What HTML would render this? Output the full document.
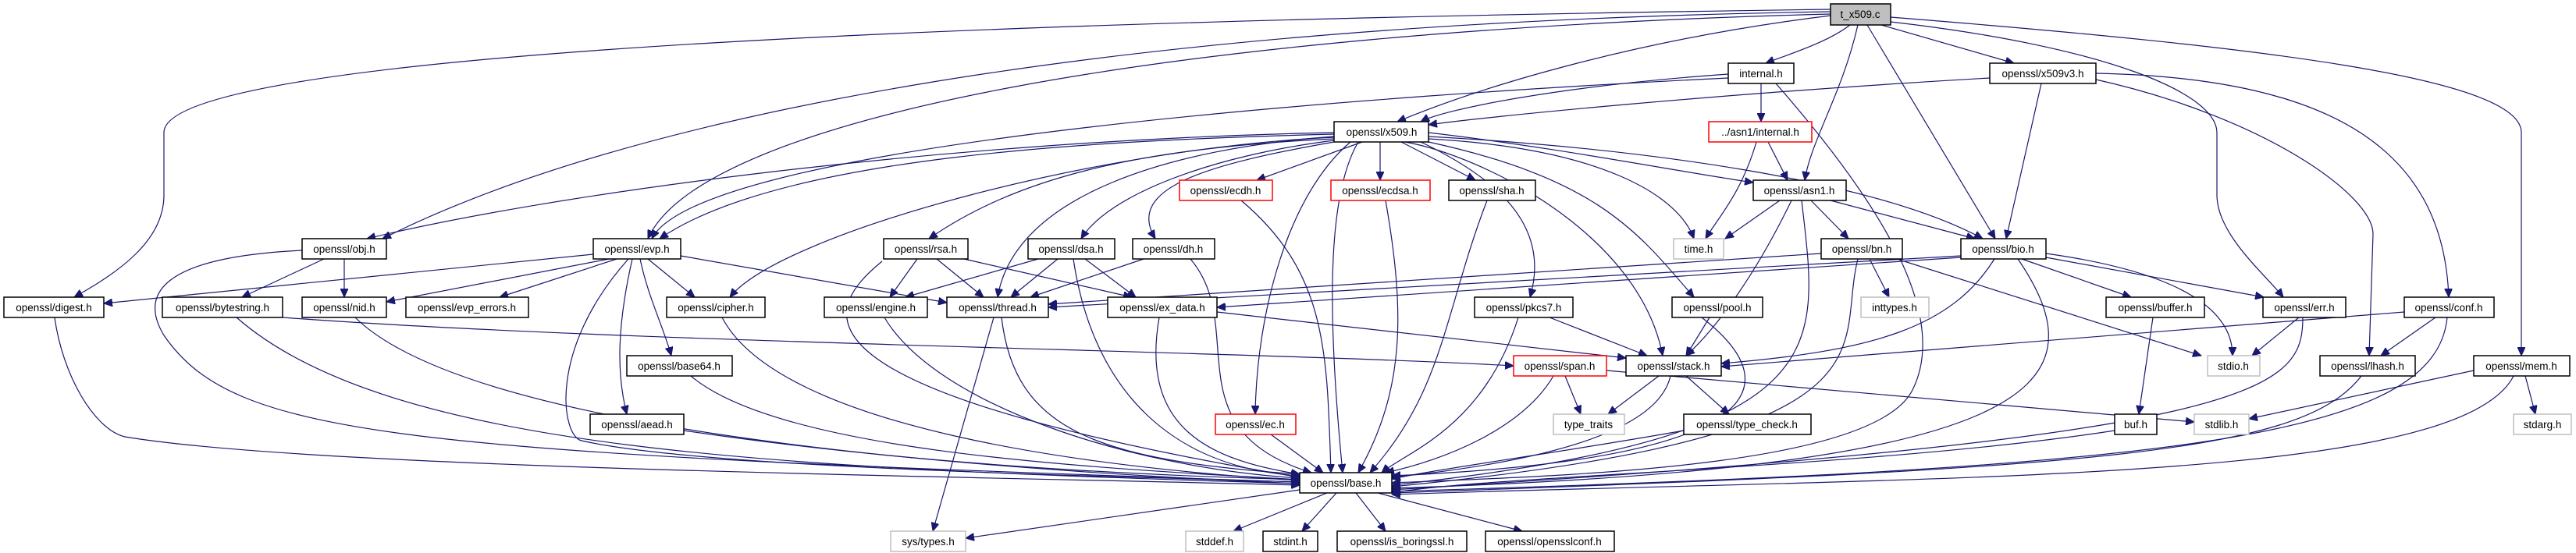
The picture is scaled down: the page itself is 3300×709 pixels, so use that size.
<!DOCTYPE html>
<html><head><meta charset="utf-8"><style>
html,body{margin:0;padding:0;background:#fff}
svg{display:block}
.e{fill:none;stroke:#191970;stroke-width:1.2;marker-end:url(#a)}
.n rect{fill:#fff;stroke:#000;stroke-width:1.5}
.g rect{fill:#fff;stroke:#bfbfbf;stroke-width:1.5}
.r rect{fill:#fff;stroke:#f00;stroke-width:1.5}
text{font-family:"Liberation Sans",sans-serif;font-size:13.5px;text-anchor:middle;fill:#000}
</style></head><body>
<svg width="3300" height="709" viewBox="0 0 3300 709" xmlns="http://www.w3.org/2000/svg">
<defs><marker id="a" markerUnits="userSpaceOnUse" markerWidth="12" markerHeight="10" refX="11" refY="5" orient="auto"><path d="M0 0 L11 5 L0 10 Z" fill="#191970" stroke="#191970"/></marker></defs>
<g>
<path class="e" d="M2370 32 C2340 55,2290 70,2262 81"/>
<path class="e" d="M2410 32 L2580 81"/>
<path class="e" d="M2345 20 C2100 50,1900 110,1790 156"/>
<path class="e" d="M2380 32 C2360 120,2320 180,2312 231"/>
<path class="e" d="M2392 32 L2556 306"/>
<path class="e" d="M2422 28 C2700 60,2840 120,2840 170 L2840 250 C2840 300,2900 350,2925 381"/>
<path class="e" d="M2422 22 C2900 60,3230 100,3230 170 L3230 456"/>
<path class="e" d="M2345 18 C1500 40,900 150,830 306"/>
<path class="e" d="M2345 15 C1400 30,800 150,490 306"/>
<path class="e" d="M2345 12 C1000 30,210 80,210 170 L210 250 C210 310,150 350,95 381"/>
<path class="e" d="M2214 95 C2000 110,1850 140,1820 156"/>
<path class="e" d="M2256 107 L2256 156"/>
<path class="e" d="M2214 100 C1800 120,900 180,835 306"/>
<path class="e" d="M2275 107 C2400 250,2500 400,2450 500 C2400 600,2000 610,1783 619"/>
<path class="e" d="M2549 100 C2200 120,1900 150,1830 160"/>
<path class="e" d="M2615 107 L2570 306"/>
<path class="e" d="M2685 102 C2900 150,3040 250,3040 300 L3035 456"/>
<path class="e" d="M2685 94 C3000 100,3130 200,3137 381"/>
<path class="e" d="M2265 182 L2290 231"/>
<path class="e" d="M2250 182 C2230 250,2200 280,2185 306"/>
<path class="e" d="M1830 170 C2000 190,2150 220,2246 234"/>
<path class="e" d="M1830 175 C2100 190,2400 230,2540 306"/>
<path class="e" d="M1830 178 C2050 190,2150 250,2170 306"/>
<path class="e" d="M1745 182 L1610 231"/>
<path class="e" d="M1768 182 L1768 231"/>
<path class="e" d="M1795 182 L1890 231"/>
<path class="e" d="M1709 178 C1450 190,1300 230,1190 306"/>
<path class="e" d="M1709 180 C1550 200,1420 250,1385 306"/>
<path class="e" d="M1709 182 C1550 210,1440 240,1480 306"/>
<path class="e" d="M1709 175 C1500 190,1300 250,1278 381"/>
<path class="e" d="M1820 182 C1900 220,1990 280,1960 381"/>
<path class="e" d="M1830 182 C2050 230,2100 300,2170 381"/>
<path class="e" d="M1800 182 C1900 200,2100 300,2130 456"/>
<path class="e" d="M1730 182 C1650 250,1610 400,1608 531"/>
<path class="e" d="M1740 182 C1700 250,1700 400,1720 606"/>
<path class="e" d="M1709 172 C1400 180,1000 200,845 306"/>
<path class="e" d="M1709 170 C1200 180,700 250,470 306"/>
<path class="e" d="M1709 176 C1400 190,1000 300,935 381"/>
<path class="e" d="M2280 257 L2210 306"/>
<path class="e" d="M2320 257 L2368 306"/>
<path class="e" d="M2345 257 L2530 306"/>
<path class="e" d="M2295 257 C2250 350,2200 420,2160 456"/>
<path class="e" d="M2308 257 C2330 450,2360 560,1783 622"/>
<path class="e" d="M2395 332 L2420 381"/>
<path class="e" d="M2430 332 L2820 456"/>
<path class="e" d="M2380 332 C2350 450,2450 560,1783 624"/>
<path class="e" d="M2333 325 L1343 390"/>
<path class="e" d="M2590 332 L2730 381"/>
<path class="e" d="M2621 330 L2900 381"/>
<path class="e" d="M2621 325 C2800 350,2860 400,2860 456"/>
<path class="e" d="M2555 332 C2500 420,2400 450,2205 466"/>
<path class="e" d="M2585 332 C2700 500,2600 600,1783 626"/>
<path class="e" d="M2512 328 L1343 394"/>
<path class="e" d="M2512 330 L1559 394"/>
<path class="e" d="M2945 407 L2885 456"/>
<path class="e" d="M2950 407 C2950 500,2900 560,1783 628"/>
<path class="e" d="M3120 407 L3050 456"/>
<path class="e" d="M3080 400 L2205 470"/>
<path class="e" d="M3135 407 C3120 560,2800 600,1783 630"/>
<path class="e" d="M3025 482 C2950 580,2700 600,1783 632"/>
<path class="e" d="M3169 475 L2881 537"/>
<path class="e" d="M3235 482 L3248 531"/>
<path class="e" d="M3220 482 C3150 620,2500 610,1783 634"/>
<path class="e" d="M2758 407 L2740 531"/>
<path class="e" d="M2709 552 C2400 600,1900 610,1783 632"/>
<path class="e" d="M415 332 L310 381"/>
<path class="e" d="M441 332 L441 381"/>
<path class="e" d="M387 321 C200 330,180 380,210 430 C300 560,500 580,1665 618"/>
<path class="e" d="M760 326 L133 389"/>
<path class="e" d="M780 332 L495 387"/>
<path class="e" d="M790 332 L640 381"/>
<path class="e" d="M830 332 L890 381"/>
<path class="e" d="M820 332 C830 380,850 420,860 456"/>
<path class="e" d="M810 332 C790 420,790 480,803 531"/>
<path class="e" d="M872 328 L1213 388"/>
<path class="e" d="M805 332 C700 450,720 560,745 565 C900 600,1400 610,1665 618"/>
<path class="e" d="M70 407 C80 480,120 550,160 560 C400 600,1200 610,1665 622"/>
<path class="e" d="M362 407 C800 440,1600 450,1939 469"/>
<path class="e" d="M303 407 C500 580,1000 600,1665 620"/>
<path class="e" d="M455 407 C600 550,1200 600,1665 620"/>
<path class="e" d="M925 407 C1000 550,1400 600,1665 616"/>
<path class="e" d="M885 482 C1000 580,1400 600,1665 615"/>
<path class="e" d="M876 552 C1200 600,1500 610,1665 615"/>
<path class="e" d="M1133 407 C1200 520,1450 600,1665 613"/>
<path class="e" d="M1175 332 L1140 381"/>
<path class="e" d="M1200 332 L1260 381"/>
<path class="e" d="M1235 332 L1450 381"/>
<path class="e" d="M1130 335 C1050 400,1000 500,1665 612"/>
<path class="e" d="M1330 332 L1160 381"/>
<path class="e" d="M1355 332 L1295 381"/>
<path class="e" d="M1390 332 L1455 381"/>
<path class="e" d="M1375 332 C1400 500,1500 600,1665 610"/>
<path class="e" d="M1465 332 L1320 381"/>
<path class="e" d="M1525 332 C1600 420,1500 550,1680 606"/>
<path class="e" d="M1273 407 L1195 681"/>
<path class="e" d="M1283 407 C1300 550,1400 590,1665 608"/>
<path class="e" d="M1559 400 L2083 459"/>
<path class="e" d="M1485 407 C1460 550,1550 590,1665 608"/>
<path class="e" d="M1590 257 C1700 350,1700 450,1705 606"/>
<path class="e" d="M1775 257 C1800 400,1800 500,1740 606"/>
<path class="e" d="M1905 257 C1850 400,1850 500,1755 606"/>
<path class="e" d="M1628 557 L1695 606"/>
<path class="e" d="M1985 407 L2110 456"/>
<path class="e" d="M1945 407 C1900 550,1800 580,1770 606"/>
<path class="e" d="M2190 407 L2160 456"/>
<path class="e" d="M2180 407 C2300 500,2250 590,1783 610"/>
<path class="e" d="M2005 482 L2025 531"/>
<path class="e" d="M2058 475 L2811 541"/>
<path class="e" d="M1990 482 C1950 550,1850 590,1775 606"/>
<path class="e" d="M2125 482 L2060 531"/>
<path class="e" d="M2160 482 L2215 531"/>
<path class="e" d="M2140 482 C2120 570,1900 600,1783 612"/>
<path class="e" d="M2157 552 C2000 580,1850 600,1783 614"/>
<path class="e" d="M1665 628 L1237 690"/>
<path class="e" d="M1700 632 L1580 681"/>
<path class="e" d="M1712 632 L1668 681"/>
<path class="e" d="M1737 632 L1775 681"/>
<path class="e" d="M1765 632 L1950 681"/>
</g>
<g class="n"><rect x="2345" y="5" width="77" height="27" style="fill:#bfbfbf"/><text x="2383" y="23">t_x509.c</text></g>
<g class="n"><rect x="2214" y="81" width="84" height="26"/><text x="2256" y="99">internal.h</text></g>
<g class="n"><rect x="2549" y="81" width="136" height="26"/><text x="2617" y="99">openssl/x509v3.h</text></g>
<g class="n"><rect x="1709" y="156" width="121" height="26"/><text x="1770" y="174">openssl/x509.h</text></g>
<g class="r"><rect x="2189" y="156" width="132" height="26"/><text x="2255" y="174">../asn1/internal.h</text></g>
<g class="n"><rect x="2246" y="231" width="119" height="26"/><text x="2305" y="249">openssl/asn1.h</text></g>
<g class="r"><rect x="1511" y="231" width="119" height="26"/><text x="1570" y="249">openssl/ecdh.h</text></g>
<g class="r"><rect x="1705" y="231" width="127" height="26"/><text x="1768" y="249">openssl/ecdsa.h</text></g>
<g class="n"><rect x="1856" y="231" width="111" height="26"/><text x="1911" y="249">openssl/sha.h</text></g>
<g class="n"><rect x="387" y="306" width="108" height="26"/><text x="441" y="324">openssl/obj.h</text></g>
<g class="n"><rect x="760" y="306" width="112" height="26"/><text x="816" y="324">openssl/evp.h</text></g>
<g class="n"><rect x="1132" y="306" width="108" height="26"/><text x="1186" y="324">openssl/rsa.h</text></g>
<g class="n"><rect x="1317" y="306" width="111" height="26"/><text x="1372" y="324">openssl/dsa.h</text></g>
<g class="n"><rect x="1451" y="306" width="105" height="26"/><text x="1503" y="324">openssl/dh.h</text></g>
<g class="g"><rect x="2144" y="306" width="64" height="26"/><text x="2176" y="324">time.h</text></g>
<g class="n"><rect x="2333" y="306" width="104" height="26"/><text x="2385" y="324">openssl/bn.h</text></g>
<g class="n"><rect x="2512" y="306" width="109" height="26"/><text x="2566" y="324">openssl/bio.h</text></g>
<g class="n"><rect x="5" y="381" width="128" height="26"/><text x="69" y="399">openssl/digest.h</text></g>
<g class="n"><rect x="208" y="381" width="154" height="26"/><text x="285" y="399">openssl/bytestring.h</text></g>
<g class="n"><rect x="387" y="381" width="108" height="26"/><text x="441" y="399">openssl/nid.h</text></g>
<g class="n"><rect x="520" y="381" width="157" height="26"/><text x="598" y="399">openssl/evp_errors.h</text></g>
<g class="n"><rect x="854" y="381" width="126" height="26"/><text x="917" y="399">openssl/cipher.h</text></g>
<g class="n"><rect x="1056" y="381" width="132" height="26"/><text x="1122" y="399">openssl/engine.h</text></g>
<g class="n"><rect x="1213" y="381" width="130" height="26"/><text x="1278" y="399">openssl/thread.h</text></g>
<g class="n"><rect x="1419" y="381" width="140" height="26"/><text x="1489" y="399">openssl/ex_data.h</text></g>
<g class="n"><rect x="1889" y="381" width="126" height="26"/><text x="1952" y="399">openssl/pkcs7.h</text></g>
<g class="n"><rect x="2142" y="381" width="116" height="26"/><text x="2200" y="399">openssl/pool.h</text></g>
<g class="g"><rect x="2384" y="381" width="87" height="26"/><text x="2427" y="399">inttypes.h</text></g>
<g class="n"><rect x="2698" y="381" width="126" height="26"/><text x="2761" y="399">openssl/buffer.h</text></g>
<g class="n"><rect x="2899" y="381" width="106" height="26"/><text x="2952" y="399">openssl/err.h</text></g>
<g class="n"><rect x="3080" y="381" width="115" height="26"/><text x="3137" y="399">openssl/conf.h</text></g>
<g class="n"><rect x="803" y="456" width="135" height="26"/><text x="870" y="474">openssl/base64.h</text></g>
<g class="r"><rect x="1939" y="456" width="119" height="26"/><text x="1998" y="474">openssl/span.h</text></g>
<g class="n"><rect x="2083" y="456" width="122" height="26"/><text x="2144" y="474">openssl/stack.h</text></g>
<g class="g"><rect x="2828" y="456" width="67" height="26"/><text x="2861" y="474">stdio.h</text></g>
<g class="n"><rect x="2972" y="456" width="122" height="26"/><text x="3033" y="474">openssl/lhash.h</text></g>
<g class="n"><rect x="3169" y="456" width="123" height="26"/><text x="3230" y="474">openssl/mem.h</text></g>
<g class="n"><rect x="756" y="531" width="120" height="26"/><text x="816" y="549">openssl/aead.h</text></g>
<g class="r"><rect x="1557" y="531" width="103" height="26"/><text x="1608" y="549">openssl/ec.h</text></g>
<g class="g"><rect x="1990" y="531" width="91" height="26"/><text x="2035" y="549">type_traits</text></g>
<g class="n"><rect x="2157" y="531" width="163" height="26"/><text x="2238" y="549">openssl/type_check.h</text></g>
<g class="n"><rect x="2709" y="531" width="54" height="26"/><text x="2736" y="549">buf.h</text></g>
<g class="g"><rect x="2811" y="531" width="70" height="26"/><text x="2846" y="549">stdlib.h</text></g>
<g class="g"><rect x="3220" y="531" width="74" height="26"/><text x="3257" y="549">stdarg.h</text></g>
<g class="n"><rect x="1665" y="606" width="118" height="26"/><text x="1724" y="624">openssl/base.h</text></g>
<g class="g"><rect x="1141" y="681" width="96" height="26"/><text x="1189" y="699">sys/types.h</text></g>
<g class="g"><rect x="1519" y="681" width="74" height="26"/><text x="1556" y="699">stddef.h</text></g>
<g class="n"><rect x="1618" y="681" width="70" height="26"/><text x="1653" y="699">stdint.h</text></g>
<g class="n"><rect x="1713" y="681" width="166" height="26"/><text x="1796" y="699">openssl/is_boringssl.h</text></g>
<g class="n"><rect x="1903" y="681" width="165" height="26"/><text x="1985" y="699">openssl/opensslconf.h</text></g>
</svg>
</body></html>
